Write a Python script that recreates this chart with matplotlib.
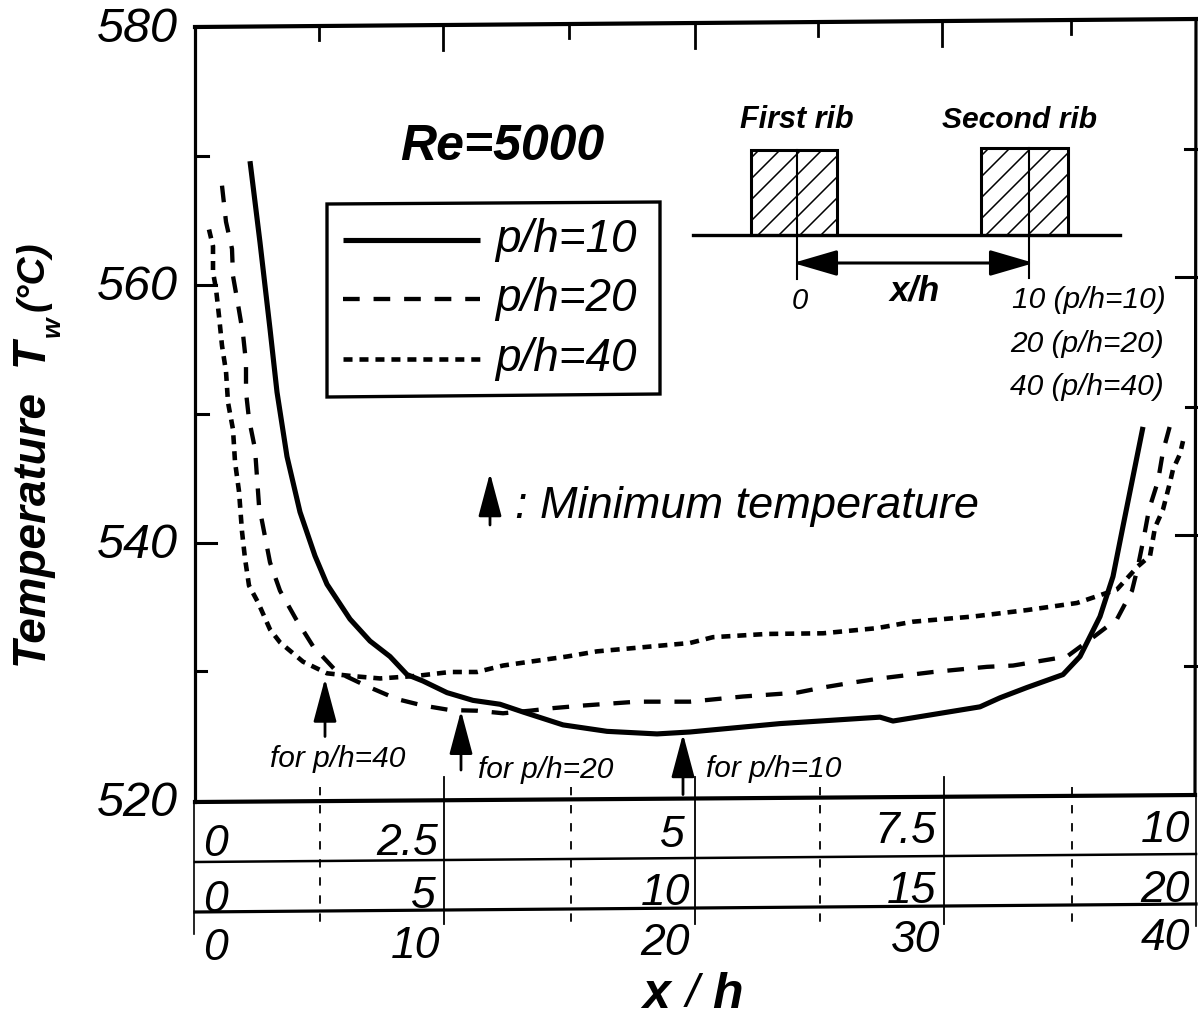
import matplotlib
matplotlib.use("Agg")
import matplotlib.pyplot as plt
from matplotlib.patches import Rectangle, Polygon
from matplotlib.transforms import ScaledTranslation

plt.rcParams['font.family'] = ['Liberation Sans', 'DejaVu Sans']
plt.rcParams['lines.scale_dashes'] = False

x_10 = [2.2, 2.6, 3.0, 3.28, 3.68, 4.2, 4.8, 5.28, 6.2, 7.0, 7.8, 8.48, 9.12, 10.08, 11.12, 12.2, 13.12, 14.72,
        16.48, 18.48, 19.8, 23.4, 27.4, 27.92, 31.4, 32.2, 33.28, 34.72, 35.4, 36.2, 36.72, 37.12, 37.92]
t_10 = [569.6, 563.3, 556.6, 551.7, 546.7, 542.4, 539.0, 536.8, 534.1, 532.4, 531.2, 529.8, 529.3, 528.4, 527.8, 527.5, 526.9, 525.9,
        525.4, 525.2, 525.35, 526.0, 526.5, 526.2, 527.3, 528.0, 528.8, 529.8, 531.2, 534.3, 537.4, 541.3, 549.0]
x_20 = [1.08, 1.24, 1.48, 1.52, 1.72, 1.92, 2.04, 2.04, 2.16, 2.4, 2.48, 2.56, 2.8, 3.0, 3.4, 4.04, 4.72, 5.68, 6.88, 8.08,
        9.12, 10.2, 11.28, 12.32, 13.4, 14.32, 15.52, 17.68, 19.8, 21.92, 24.08, 25.12, 26.2, 27.4, 29.52, 31.68, 32.72, 33.8,
        34.88, 36.0, 36.88, 37.48, 37.72, 37.96, 38.16, 38.52, 38.72, 39.0]
t_20 = [567.7, 564.9, 562.8, 560.7, 558.5, 556.2, 554.0, 551.7, 549.6, 547.3, 545.1, 542.9, 540.5, 538.5, 536.3, 534.1, 532.0, 530.0, 528.9, 527.9,
        527.4, 527.05, 527.0, 526.8, 527.0, 527.2, 527.4, 527.7, 527.7, 528.1, 528.4, 528.8, 529.15, 529.5, 530.0, 530.4, 530.5, 530.85,
        531.2, 532.8, 534.1, 536.3, 538.2, 540.5, 542.6, 544.8, 547.1, 549.1]
x_40 = [0.56, 0.72, 0.72, 0.84, 0.96, 1.08, 1.24, 1.32, 1.52, 1.6, 1.76, 1.88, 2.0, 2.16, 2.52, 3.0, 3.4, 4.32, 5.28, 6.2, 7.4, 8.88,
        10.2, 11.28, 12.32, 13.4, 14.88, 16.08, 17.8, 19.8, 20.72, 22.88, 25.12, 27.28, 28.72, 31.12, 33.28, 35.28, 36.88, 37.72,
        38.2, 38.4, 38.72, 39.0, 39.12, 39.4, 39.52]
t_40 = [564.3, 563.0, 561.0, 559.7, 557.6, 555.3, 553.3, 550.9, 548.8, 546.3, 544.0, 540.9, 538.8, 536.7, 535.4, 533.3, 532.3, 530.8, 529.9, 529.7, 529.5, 529.7,
        530.0, 530.0, 530.5, 530.8, 531.2, 531.6, 531.9, 532.25, 532.7, 532.95, 533.0, 533.4, 533.9, 534.3, 534.8, 535.35, 536.4, 538.2,
        539.0, 541.2, 542.6, 544.7, 545.7, 546.9, 547.9]

min_x = [5.2, 10.64, 19.52]
min_t = [529.5, 527.0, 525.2]
arrow_base_t = [525.0, 522.4, 520.5]
min_labels = ['for p/h=40', 'for p/h=20', 'for p/h=10']
series_labels = ['p/h=10', 'p/h=20', 'p/h=40']
y_ticks = [520, 540, 560, 580]
row1 = ['2.5', '5', '7.5', '10']
row2 = ['5', '10', '15', '20']
row3 = ['10', '20', '30', '40']
inset_end = ['10 (p/h=10)', '20 (p/h=20)', '40 (p/h=40)']

W, H = 1198, 1020
fig = plt.figure(figsize=(W / 100, H / 100), dpi=100, facecolor='white')

# overlay in pixel coordinates for the drawn frame and diagram
ov = fig.add_axes([0, 0, 1, 1], zorder=1)
ov.set_xlim(0, W)
ov.set_ylim(H, 0)
ov.axis('off')

ax = fig.add_axes([195 / W, 1 - 802 / H, 1000 / W, 774 / H], zorder=2)
ax.patch.set_alpha(0)
ax.set_xlim(0, 40)
ax.set_ylim(520, 580)
for s in ax.spines.values():
    s.set_visible(False)
ax.set_xticks([])
ax.set_yticks(y_ticks)
ax.set_yticklabels([str(v) for v in y_ticks], fontsize=35, style='italic')
ax.tick_params(axis='y', length=0, pad=12)
up = ScaledTranslation(0, 2.5 / 72, fig.dpi_scale_trans)
for lb in ax.get_yticklabels():
    lb.set_transform(lb.get_transform() + up)

solid = dict(color='black', lw=3.7, solid_capstyle='butt')
dash = dict(color='black', lw=3.1, linestyle=(0, (12, 10)), dash_capstyle='butt')
dot = dict(color='black', lw=3.3, linestyle=(0, (6.5, 5)), dash_capstyle='butt')
ax.plot(x_10, t_10, **solid)
ax.plot(x_20, t_20, **dash)
ax.plot(x_40, t_40, **dot)

head = dict(arrowstyle='-|>,head_length=1.35,head_width=0.36', color='black', lw=2,
            mutation_scale=20, shrinkA=0, shrinkB=0)
for xm, tm, tb in zip(min_x, min_t, arrow_base_t):
    ax.annotate('', xy=(xm, tm), xytext=(xm, tb), arrowprops=head)

# frame
BL, BR, TR, TL = (195, 803), (1195, 796), (1196, 20), (195, 28)
ov.plot([TL[0], TR[0]], [TL[1], TR[1]], color='k', lw=3.0, solid_capstyle='projecting')
ov.plot([BL[0], BR[0]], [BL[1], BR[1]], color='k', lw=3.0, solid_capstyle='projecting')
ov.plot([TL[0], BL[0]], [TL[1], BL[1]], color='k', lw=2.3)
ov.plot([TR[0], BR[0]], [TR[1], BR[1]], color='k', lw=2.3)
# table rows and verticals
ov.plot([195, 1196], [863, 855], color='k', lw=1.8)
ov.plot([195, 1196], [913, 905], color='k', lw=2.3)
ov.plot([194, 194], [803, 935], color='k', lw=1.2)
ov.plot([1196, 1196], [796, 927], color='k', lw=1.2)
for xp in (444, 695, 944):
    ov.plot([xp, xp], [778, 925], color='k', lw=1.3)
for xp in (320, 571, 820, 1072):
    ov.plot([xp, xp], [788, 925], color='k', lw=1.3, linestyle=(0, (6, 7)))

# frame tick marks
for yp, ln in ((157, 12), (286, 20), (415, 12), (544, 20), (672, 10)):
    ov.plot([196, 196 + ln], [yp, yp], color='k', lw=2.2)
for yp, ln in ((150, 11), (278, 20), (408, 10), (536, 20), (667, 11)):
    ov.plot([1196 - ln, 1196], [yp, yp], color='k', lw=2.2)
for xp, y0, y1 in ((319, 27, 41), (443, 26, 51), (569, 25, 39), (695, 24, 49), (818, 23, 37), (942, 22, 47), (1071, 21, 35)):
    ov.plot([xp, xp], [y0, y1], color='k', lw=2.0)


def T(x, y, s, size, ha='left', weight='normal', **kw):
    return ov.text(x, y + size * 0.11, s, fontsize=size, ha=ha, va='center', style='italic', weight=weight, **kw)


# rotated value-axis title, assembled piece by piece
def R(x, y, s, size):
    ov.text(x, y, s, fontsize=size, ha='center', va='bottom', rotation=90, style='italic', weight='bold')


R(31, 665, 'Temperature', 33)
R(31, 366, 'T', 33)
R(53, 337, 'w', 19)
R(34, 311, '(°C)', 28)

T(400, 143, 'Re=5000', 36, weight='bold')

# legend box
ov.add_patch(Polygon([(327, 205), (660, 203), (660, 395), (327, 398)], closed=True, fill=False, ec='k', lw=2.4))
legend_styles = [solid, dash, dot]
for lab, st, yp in zip(series_labels, legend_styles, (241, 300, 360)):
    ov.plot([343, 480], [yp, yp], **st)
    T(495, yp - 4.6, lab, 33)

# minimum temperature note
ov.annotate('', xy=(490, 474), xytext=(490, 526), arrowprops=head)
T(515, 503, ': Minimum temperature', 32.5)

for lab, (xp, yp) in zip(min_labels, ((270, 757), (478, 768), (706, 767))):
    T(xp, yp, lab, 21.5)

# inset diagram
ov.plot([693, 1120], [236, 236], color='k', lw=2.4)
for x0, x1, yt in ((751, 837, 151), (981, 1068, 149)):
    rect = Rectangle((x0, yt), x1 - x0, 236 - yt, fill=False, ec='k', lw=2.2)
    ov.add_patch(rect)
    start = x0 - (236 - yt)
    for k in range(0, 10):
        base = start + 8 + 21 * k
        ln, = ov.plot([base, base + (236 - yt)], [236, yt], color='k', lw=1.1)
        ln.set_clip_path(rect)
ov.plot([797, 797], [151, 280], color='k', lw=1.5)
ov.plot([1029, 1029], [149, 279], color='k', lw=1.5)
ov.annotate('', xy=(793, 264), xytext=(1034, 264),
            arrowprops=dict(arrowstyle='<|-|>,head_length=1.37,head_width=0.4', color='black', lw=2.2,
                            mutation_scale=20, shrinkA=0, shrinkB=0))
T(740, 118, 'First rib', 22, weight='bold')
T(942, 118, 'Second rib', 21.6, weight='bold')
T(890, 288, 'x/h', 25, weight='bold')
T(792, 299, '0', 21)
for lab, xp, yp in zip(inset_end, (1012, 1010, 1010), (298, 342, 385)):
    T(xp, yp, lab, 21.5)

# stacked x scales
T(203, 841, '0', 32)
T(203, 897, '0', 32)
T(203, 945, '0', 32)
for lab, xp, yp in zip(row1, (438, 685, 936, 1190), (840, 832, 828, 827)):
    T(xp, yp, lab, 32, ha='right')
for lab, xp, yp in zip(row2, (436, 690, 936, 1190), (893, 890, 888, 887)):
    T(xp, yp, lab, 32, ha='right')
for lab, xp, yp in zip(row3, (440, 690, 940, 1190), (943, 940, 937, 935)):
    T(xp, yp, lab, 32, ha='right')

T(642, 991, 'x', 36, weight='bold')
T(686, 991, '/', 34)
T(712, 991, 'h', 36, weight='bold')

fig.savefig('out.png', dpi=100, facecolor='white')
